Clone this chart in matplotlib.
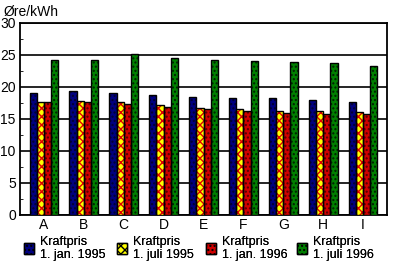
import numpy as np
import matplotlib
matplotlib.use('Agg')
import matplotlib.pyplot as plt
from matplotlib.patches import Patch

categories = ['A', 'B', 'C', 'D', 'E', 'F', 'G', 'H', 'I']
jan_1995 = [19.1, 19.4, 19.1, 18.75, 18.4, 18.3, 18.3, 18.0, 17.7]
juli_1995 = [17.6, 17.8, 17.65, 17.2, 16.7, 16.55, 16.25, 16.25, 16.1]
jan_1996 = [17.6, 17.65, 17.3, 16.9, 16.6, 16.25, 15.9, 15.8, 15.8]
juli_1996 = [24.2, 24.2, 25.2, 24.5, 24.2, 24.05, 23.9, 23.75, 23.3]
series_labels = ['Kraftpris\n1. jan. 1995', 'Kraftpris\n1. juli 1995',
                 'Kraftpris\n1. jan. 1996', 'Kraftpris\n1. juli 1996']

# (face, hatch colour, hatch)
styles = [
    ('#000080', '#000030', '....'),
    ('#ffff00', '#e00000', 'xxxx'),
    ('#d00000', '#500000', '....'),
    ('#008000', '#002000', '....'),
]


def main():
    plt.rcParams['font.family'] = 'Liberation Sans'
    plt.rcParams['hatch.linewidth'] = 1.0

    fig = plt.figure(figsize=(4, 2.7), dpi=100)
    ax = fig.add_axes([0.05, 0.204, 0.9175, 0.711])

    x = np.arange(len(categories))
    w = 0.18
    all_series = [jan_1995, juli_1995, jan_1996, juli_1996]
    handles = []
    for i, vals in enumerate(all_series):
        face, hcol, hatch = styles[i]
        pos = x + (i - 1.5) * w
        ax.bar(pos, vals, w, color=face, edgecolor=hcol, hatch=hatch,
               linewidth=0, zorder=3)
        ax.bar(pos, vals, w, fill=False, edgecolor='black', linewidth=1.0,
               zorder=4)
        handles.append(Patch(facecolor=face, edgecolor='black', hatch=hatch,
                             linewidth=1.0))

    ax.set_ylim(0, 30)
    ax.set_xlim(-0.6, 8.6)
    ax.set_yticks(range(0, 31, 5))
    ax.set_yticks(np.arange(0, 30.1, 2.5), minor=True)
    ax.yaxis.grid(True, color='black', linewidth=1.2, zorder=0)
    ax.set_axisbelow(True)
    ax.tick_params(axis='y', which='major', length=0, labelsize=10, pad=3)
    ax.tick_params(axis='y', which='minor', direction='in', length=2)
    ax.set_xticks(x)
    ax.set_xticklabels(categories)
    ax.tick_params(axis='x', length=0, labelsize=10, pad=2)
    for s in ax.spines.values():
        s.set_linewidth(1.3)

    fig.text(0.008, 0.955, 'Øre/kWh', fontsize=10, va='center', ha='left')

    # one legend per series so each entry sits where it does in the original
    legend_x = [0.06, 0.293, 0.515, 0.743]
    for h, lab, lx in zip(handles, series_labels, legend_x):
        leg = fig.legend([h], [lab], loc='center left',
                         bbox_to_anchor=(lx, 0.08), frameon=False,
                         fontsize=9, handlelength=0.8, handleheight=1.0,
                         handletextpad=0.5, borderpad=0, borderaxespad=0)
        fig.add_artist(leg)

    fig.savefig('out.png', dpi=100)


if __name__ == '__main__':
    main()
